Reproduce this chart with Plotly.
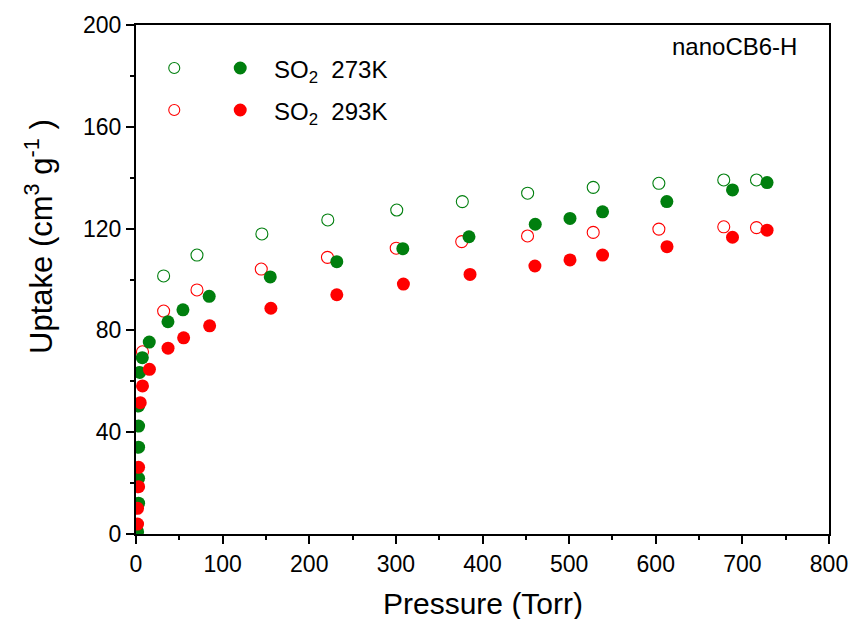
import plotly.graph_objects as go

# 273 K adsorption (filled green)
p273_ads = [1.8, 3.0, 3.0, 3.0, 3.0, 3.0, 4.2, 7.3, 15.3, 36.9, 54.2, 84.5, 155.0, 231.8, 308.0, 384.4, 460.9, 501.0, 538.6, 612.8, 688.6, 728.5]
u273_ads = [0.9, 12.1, 21.9, 34.1, 42.4, 50.3, 63.5, 69.3, 75.4, 83.4, 88.1, 93.4, 101.0, 107.0, 112.1, 116.8, 121.7, 124.0, 126.6, 130.6, 135.2, 138.1]
# 273 K desorption (open green)
p273_des = [716.3, 678.5, 603.6, 527.8, 452.1, 376.7, 301.0, 221.4, 145.3, 70.4, 31.9]
u273_des = [139.1, 139.1, 137.8, 136.2, 133.9, 130.6, 127.3, 123.4, 117.9, 109.6, 101.4]
# 293 K adsorption (filled red)
p293_ads = [1.8, 1.8, 3.0, 3.0, 4.9, 7.5, 15.5, 37.0, 55.0, 85.0, 155.7, 231.8, 308.7, 385.6, 460.5, 501.0, 538.6, 613.0, 688.6, 728.5]
u293_ads = [3.9, 10.1, 18.6, 26.2, 51.6, 58.2, 64.7, 73.0, 77.1, 81.8, 88.7, 94.0, 98.2, 102.0, 105.3, 107.7, 109.6, 112.9, 116.6, 119.4]
# 293 K desorption (open red)
p293_des = [716.3, 678.5, 603.6, 527.8, 452.0, 376.0, 300.4, 221.0, 144.6, 70.4, 31.9, 7.5]
u293_des = [120.4, 120.7, 119.8, 118.5, 117.1, 114.9, 112.3, 108.7, 104.1, 95.9, 87.6, 71.6]

legend_labels = ["SO<sub>2</sub>  273K", "SO<sub>2</sub>  293K"]
x_ticks = [0, 100, 200, 300, 400, 500, 600, 700, 800]
y_ticks = [0, 40, 80, 120, 160, 200]
GREEN = "#007F0E"
RED = "#FF0000"
FONT = "Liberation Sans, Arial, sans-serif"

fig = go.Figure()
fig.add_trace(go.Scatter(x=p273_des, y=u273_des, mode="markers",
                         marker=dict(symbol="circle-open", size=12, color=GREEN, line=dict(width=1.1, color=GREEN))))
fig.add_trace(go.Scatter(x=p293_des, y=u293_des, mode="markers",
                         marker=dict(symbol="circle-open", size=12, color=RED, line=dict(width=1.1, color=RED))))
fig.add_trace(go.Scatter(x=p273_ads, y=u273_ads, mode="markers",
                         marker=dict(symbol="circle", size=13, color=GREEN, line=dict(width=0))))
fig.add_trace(go.Scatter(x=p293_ads, y=u293_ads, mode="markers",
                         marker=dict(symbol="circle", size=13, color=RED, line=dict(width=0))))

# custom legend
shapes = []
annots = []
rows = [(0.9155, GREEN, legend_labels[0]), (0.833, RED, legend_labels[1])]
for yy, col, lab in rows:
    shapes.append(dict(type="circle", xref="paper", yref="paper", xsizemode="pixel", ysizemode="pixel",
                       xanchor=0.0552, yanchor=yy, x0=-5.5, x1=5.5, y0=-5.5, y1=5.5,
                       line=dict(color=col, width=1.1), fillcolor="rgba(0,0,0,0)"))
    shapes.append(dict(type="circle", xref="paper", yref="paper", xsizemode="pixel", ysizemode="pixel",
                       xanchor=0.1504, yanchor=yy, x0=-6.5, x1=6.5, y0=-6.5, y1=6.5,
                       line=dict(color=col, width=0), fillcolor=col))
    annots.append(dict(xref="paper", yref="paper", x=0.196, y=yy - 0.007, xanchor="left", yanchor="middle",
                       text=lab, showarrow=False, font=dict(family=FONT, size=24, color="black")))
annots.append(dict(xref="paper", yref="paper", x=0.957, y=0.958, xanchor="right", yanchor="middle",
                   text="nanoCB6-H", showarrow=False, font=dict(family=FONT, size=24, color="black")))
# axis titles placed as in the reference
annots.append(dict(xref="paper", yref="paper", x=-0.139, y=0.585, xanchor="center", yanchor="middle",
                   textangle=-90, text="Uptake (cm<sup>3</sup> g<sup>-1</sup> )", showarrow=False,
                   font=dict(family=FONT, size=31, color="black")))
annots.append(dict(xref="paper", yref="paper", x=0.5, y=-0.136, xanchor="center", yanchor="middle",
                   text="Pressure (Torr)", showarrow=False,
                   font=dict(family=FONT, size=30, color="black")))

fig.update_layout(
    width=852, height=619,
    margin=dict(l=136, r=23, t=25, b=85, autoexpand=False),
    paper_bgcolor="white", plot_bgcolor="white",
    showlegend=False,
    shapes=shapes, annotations=annots,
    font=dict(family=FONT, color="black"),
)
fig.update_xaxes(range=[0, 800], tickvals=x_ticks,
                 ticks="outside", ticklen=8, tickwidth=2, tickcolor="black",
                 minor=dict(tickvals=[50, 150, 250, 350, 450, 550, 650, 750], ticks="outside", ticklen=4, tickwidth=2, tickcolor="black"),
                 showline=True, linewidth=2, linecolor="black", mirror=True, showgrid=False, zeroline=False,
                 tickfont=dict(size=23, family=FONT, color="black"), automargin=False)
fig.update_yaxes(range=[0, 200], tickvals=y_ticks,
                 ticks="outside", ticklen=8, tickwidth=2, tickcolor="black",
                 minor=dict(tickvals=[20, 60, 100, 140, 180], ticks="outside", ticklen=4, tickwidth=2, tickcolor="black"),
                 showline=True, linewidth=2, linecolor="black", mirror=True, showgrid=False, zeroline=False,
                 tickfont=dict(size=23, family=FONT, color="black"), automargin=False)

fig.write_html("out.html")
